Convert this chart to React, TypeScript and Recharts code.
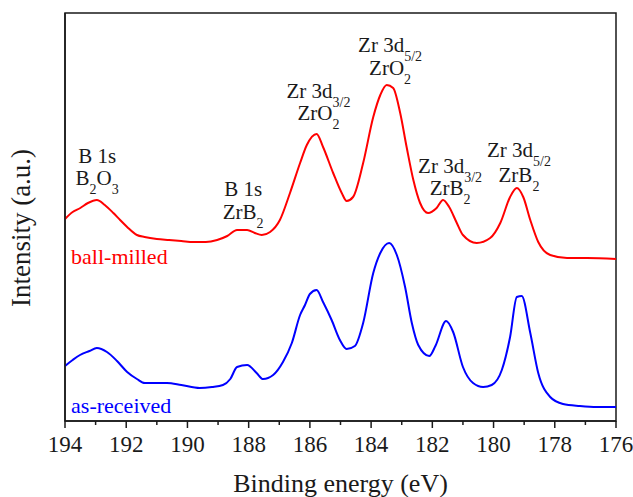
import React from 'react';
import {
  LineChart,
  Line,
  XAxis,
  YAxis,
  ReferenceArea,
  ReferenceDot
} from 'recharts';

// binding energy (eV) and intensity (a.u., arbitrary offset units)
const redEnergy = [
  194.0, 193.75, 193.5, 193.25, 192.96, 192.7, 192.42, 192.2, 191.97, 191.65, 191.4, 191.0,
  190.6, 190.2, 189.8, 189.4, 189.03, 188.7, 188.38, 188.05, 187.8, 187.57, 187.3, 186.98,
  186.65, 186.32, 186.1, 185.78, 185.57, 185.24, 184.96, 184.8, 184.59, 184.26, 183.93, 183.7,
  183.49, 183.28, 183.05, 182.84, 182.62, 182.4, 182.14, 181.86, 181.65, 181.45, 181.2, 181.0,
  180.55, 180.11, 179.78, 179.46, 179.24, 179.03, 178.8, 178.54, 178.15, 177.6, 176.95, 176.0
];
const redIntensity = [
  202, 209, 213, 218, 221, 216, 208, 201, 194, 186, 184, 182,
  181, 180, 179, 179, 181, 185, 191, 191, 188, 186, 189, 201,
  228, 258, 276, 287, 274, 248, 228, 220, 224, 258, 304, 326,
  336, 333, 308, 274, 241, 218, 208, 213, 221, 214, 198, 186,
  178, 183, 198, 224, 233, 224, 201, 179, 166, 163, 163, 162
];

const blueEnergy = [
  194.0, 193.75, 193.51, 193.2, 192.96, 192.63, 192.3, 191.97, 191.65, 191.39, 191.0, 190.67,
  190.2, 189.6, 189.2, 188.84, 188.6, 188.38, 188.05, 187.74, 187.53, 187.2, 186.88, 186.59,
  186.32, 186.16, 186.0, 185.78, 185.57, 185.29, 185.02, 184.8, 184.53, 184.26, 183.93, 183.7,
  183.41, 183.16, 182.89, 182.67, 182.46, 182.1, 181.9, 181.55, 181.32, 181.0, 180.67, 180.34,
  180.06, 179.73, 179.46, 179.24, 179.08, 178.8, 178.54, 178.15, 177.73, 177.18, 176.63, 176.0
];
const blueIntensity = [
  55, 61, 66, 70, 73, 69, 60, 49, 42, 38, 38, 38,
  36, 33, 34, 36, 42, 54, 56, 48, 42, 46, 59, 78,
  106, 116, 127, 131, 119, 101, 81, 72, 75, 98, 148, 168,
  178, 166, 134, 98, 76, 65, 75, 100, 89, 54, 38, 34,
  36, 51, 84, 124, 125, 88, 48, 24, 17, 15, 14, 14
];

const xTicks = [194, 193, 192, 191, 190, 189, 188, 187, 186, 185, 184, 183, 182, 181, 180, 179, 178, 177, 176];

// peak assignments: position (eV, intensity of first baseline) and two text lines
const peakLabelX = [192.95, 188.18, 185.72, 183.38, 181.42, 179.17];
const peakLabelY = [258, 225, 323, 369, 248, 264];
const peakLabelGap = [22, 23, 22, 23, 22, 25];
const peakLabelLines = [
  ['B 1s', 'B_{2}O_{3}'],
  ['B 1s', 'ZrB_{2}'],
  ['Zr 3d_{3/2}', 'ZrO_{2}'],
  ['Zr 3d_{5/2}', 'ZrO_{2}'],
  ['Zr 3d_{3/2}', 'ZrB_{2}'],
  ['Zr 3d_{5/2}', 'ZrB_{2}']
];

const seriesNames = ['ball-milled', 'as-received'];
const seriesColors = ['#ff0000', '#0000ff'];
const seriesLabelY = [157, 8];

const FONT = "'Liberation Serif', 'Times New Roman', serif";
const INK = '#1a1a1a';

const redData = redEnergy.map((e, i) => ({ eV: e, v: redIntensity[i] }));
const blueData = blueEnergy.map((e, i) => ({ eV: e, v: blueIntensity[i] }));

function renderRich(str: string) {
  const parts: React.ReactNode[] = [];
  const re = /_\{([^}]*)\}/g;
  let last = 0;
  let m: RegExpExecArray | null;
  let down = false;
  let k = 0;
  while ((m = re.exec(str)) !== null) {
    if (m.index > last) {
      parts.push(<tspan key={k++} dy={down ? -9 : 0}>{str.slice(last, m.index)}</tspan>);
      down = false;
    }
    parts.push(<tspan key={k++} dy={down ? 0 : 9} style={{ fontSize: 14 }}>{m[1]}</tspan>);
    down = true;
    last = re.lastIndex;
  }
  if (last < str.length) {
    parts.push(<tspan key={k++} dy={down ? -9 : 0}>{str.slice(last)}</tspan>);
  }
  return parts;
}

function PeakLabel(props: any) {
  const { cx, cy, lines, gap } = props;
  return (
    <g>
      {lines.map((ln: string, i: number) => (
        <text key={i} x={cx} y={cy + i * gap} textAnchor="middle" style={{ fontFamily: FONT, fontSize: 21 }} fill={INK}>
          {renderRich(ln)}
        </text>
      ))}
    </g>
  );
}

function SeriesLabel(props: any) {
  const { cx, cy, text, color } = props;
  return (
    <text x={cx} y={cy} style={{ fontFamily: FONT, fontSize: 22 }} fill={color}>{text}</text>
  );
}

function XTick(props: any) {
  const { x, y, payload } = props;
  const major = payload.value % 2 === 0;
  return (
    <g>
      <line x1={x} x2={x} y1={y} y2={y + (major ? 7 : 4)} stroke={INK} strokeWidth={1.5} />
      {major && (
        <text x={x} y={y + 31} textAnchor="middle" style={{ fontFamily: FONT, fontSize: 23 }} fill={INK}>
          {payload.value}
        </text>
      )}
    </g>
  );
}

export default function App() {
  return (
    <div style={{ position: 'absolute', left: 0, top: 0, width: 633, height: 497, background: '#fff', fontFamily: FONT }}>
      <LineChart width={633} height={497} margin={{ top: 13, right: 17, left: 0, bottom: 0 }} style={{ fontFamily: FONT }}>
        <XAxis
          dataKey="eV"
          type="number"
          domain={[176, 194]}
          reversed
          ticks={xTicks}
          interval={0}
          allowDataOverflow
          height={76}
          tickLine={false}
          tickSize={0}
          tickMargin={0}
          tick={<XTick />}
          axisLine={{ stroke: INK, strokeWidth: 1.5 }}
          label={{
            content: ({ viewBox }: any) => (
              <text x={viewBox.x + viewBox.width / 2} y={viewBox.y + 71} textAnchor="middle" style={{ fontFamily: FONT, fontSize: 26 }} fill={INK}>
                Binding energy (eV)
              </text>
            )
          }}
        />
        <YAxis
          type="number"
          domain={[0, 408]}
          allowDataOverflow
          width={65}
          tick={false}
          tickLine={false}
          axisLine={{ stroke: INK, strokeWidth: 1.5 }}
          label={{
            content: ({ viewBox }: any) => {
              const cx = viewBox.x + 21;
              const cy = viewBox.y + viewBox.height / 2 + 11;
              return (
                <text x={cx} y={cy} transform={`rotate(-90 ${cx} ${cy})`} textAnchor="middle" dominantBaseline="central" style={{ fontFamily: FONT, fontSize: 27 }} fill={INK}>
                  Intensity (a.u.)
                </text>
              );
            }
          }}
        />
        <ReferenceArea x1={194} x2={176} y1={0} y2={408} fill="none" stroke={INK} strokeWidth={1.5} ifOverflow="visible" />
        <Line data={redData} dataKey="v" name={seriesNames[0]} type="monotone" stroke={seriesColors[0]} strokeWidth={2} dot={false} isAnimationActive={false} />
        <Line data={blueData} dataKey="v" name={seriesNames[1]} type="monotone" stroke={seriesColors[1]} strokeWidth={2} dot={false} isAnimationActive={false} />
        {peakLabelX.map((x, i) => (
          <ReferenceDot
            key={'p' + i}
            x={x}
            y={peakLabelY[i]}
            r={0}
            ifOverflow="visible"
            shape={(p: any) => <PeakLabel cx={p.cx} cy={p.cy} lines={peakLabelLines[i]} gap={peakLabelGap[i]} />}
          />
        ))}
        {seriesNames.map((name, i) => (
          <ReferenceDot
            key={'s' + i}
            x={193.8}
            y={seriesLabelY[i]}
            r={0}
            ifOverflow="visible"
            shape={(p: any) => <SeriesLabel cx={p.cx} cy={p.cy} text={name} color={seriesColors[i]} />}
          />
        ))}
      </LineChart>
    </div>
  );
}
